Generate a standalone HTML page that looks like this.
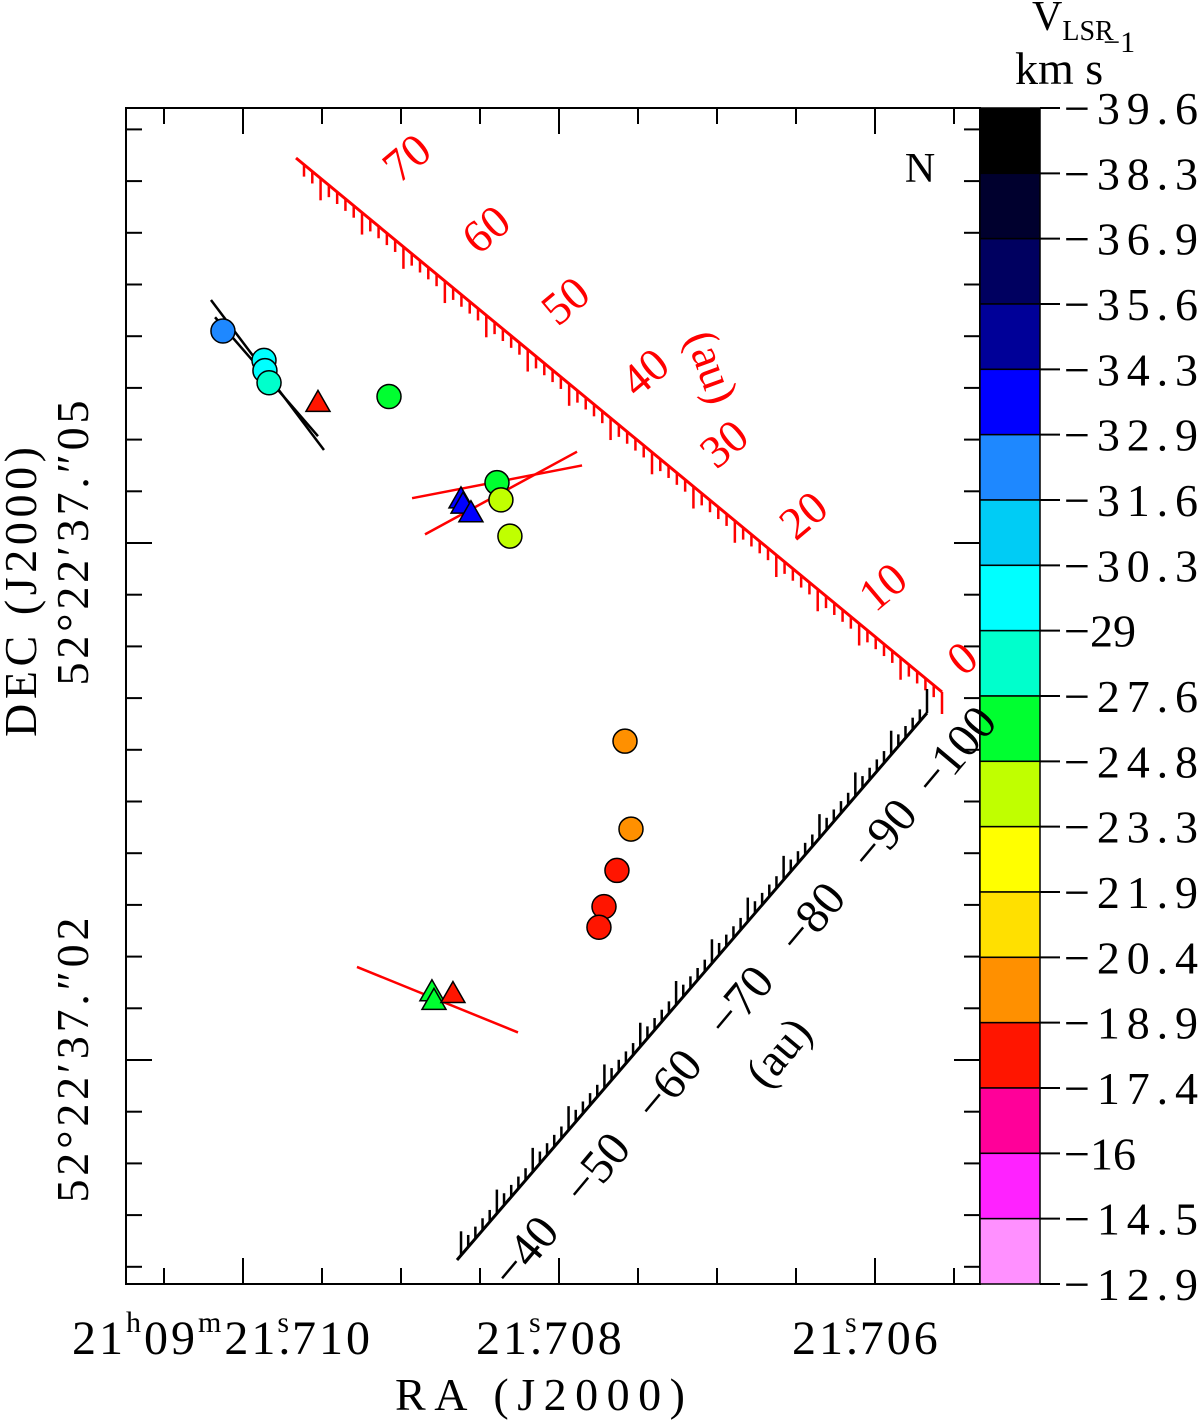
<!DOCTYPE html>
<html><head><meta charset="utf-8"><style>
body{margin:0;background:#fff}
svg{display:block;font-family:"Liberation Serif",serif}
</style></head><body>
<svg id="chart" width="1200" height="1426" viewBox="0 0 1200 1426" xmlns="http://www.w3.org/2000/svg">
<g id="axes"></g>
<g id="cbar"></g>
<g id="scales"></g>
<g id="fits"></g>
<g id="marks"></g>
<text x="920" y="182" font-size="42" text-anchor="middle">N</text>
<text x="540" y="1410" font-size="46" text-anchor="middle" textLength="290">RA (J2000)</text>
<text transform="translate(36,592) rotate(-90)" font-size="46" text-anchor="middle" textLength="290">DEC (J2000)</text>
<text transform="translate(88,543) rotate(-90)" font-size="46" text-anchor="middle" textLength="285">52°22′37.″05</text>
<text transform="translate(88,1060) rotate(-90)" font-size="46" text-anchor="middle" textLength="285">52°22′37.″02</text>
<g font-size="48" letter-spacing="3">
<text x="72" y="1354">21<tspan font-size="30" dy="-22">h</tspan><tspan dy="22">09</tspan><tspan font-size="30" dy="-22">m</tspan><tspan dy="22">21.</tspan><tspan font-size="30" dy="-22" dx="-16">s</tspan><tspan dy="22">710</tspan></text>
<text x="476" y="1354">21.<tspan font-size="30" dy="-22" dx="-16">s</tspan><tspan dy="22">708</tspan></text>
<text x="792" y="1354">21.<tspan font-size="30" dy="-22" dx="-16">s</tspan><tspan dy="22">706</tspan></text>
</g>
<text x="1032" y="30" font-size="42">V<tspan font-size="28" dy="10">LSR</tspan></text>
<text x="1015" y="84" font-size="46">km s<tspan font-size="30" dy="-32">−1</tspan></text>
</svg>
<script>
const raSec=[21.710127,21.709867,21.709861,21.709835,21.709075,21.708391,21.708366,21.708309,21.707580,21.707542,21.707631,21.707713,21.707745];
const decSec=[37.0623,37.0606,37.0600,37.0593,37.0585,37.0535,37.0525,37.0504,37.0385,37.0334,37.0310,37.0289,37.0277];
const velCircle=[-32.2,-29.7,-29.5,-28.3,-25.5,-25.5,-24.0,-24.0,-19.5,-19.5,-18.0,-18.0,-18.0];
const raTri=[21.709525,21.708619,21.708606,21.708556,21.708803,21.708790,21.708670];
const decTri=[37.0581,37.0525,37.0522,37.0517,37.0239,37.0234,37.0238];
const velTri=[-18.0,-33.5,-33.5,-33.5,-25.5,-25.5,-18.0];
const cbarLabels=["−39.6","−38.3","−36.9","−35.6","−34.3","−32.9","−31.6","−30.3","−29","−27.6","−24.8","−23.3","−21.9","−20.4","−18.9","−17.4","−16","−14.5","−12.9"];
const cbarEdges=[-39.6,-38.3,-36.9,-35.6,-34.3,-32.9,-31.6,-30.3,-29,-27.6,-24.8,-23.3,-21.9,-20.4,-18.9,-17.4,-16,-14.5,-12.9];
const cbarColors=["#000000","#00002e","#000060","#000098","#0000ff","#1e88ff","#00ccf5","#00ffff","#00ffcc","#00ff30","#c0ff00","#ffff00","#ffe000","#ff9000","#ff1500","#ff0099","#ff22ff","#ff90ff"];
const fitLines=[[21.710203,37.0641,21.709487,37.0554,"#000"],[21.710177,37.0631,21.709525,37.0562,"#000"],[21.708929,37.0526,21.707852,37.0545,"#f00"],[21.708847,37.0505,21.707884,37.0553,"#f00"],[21.709278,37.0254,21.708258,37.0216,"#f00"]];
const redScaleLabels=[0,10,20,30,40,50,60,70];
const blackScaleLabels=[-100,-90,-80,-70,-60,-50,-40];
const NS="http://www.w3.org/2000/svg";
const L=126,R=980,T=108,B=1284;
const xs=ra=>243+(21.710-ra)*157850;
const ys=d=>543+(37.05-d)*17233;
function mk(tag,attrs,parent){const e=document.createElementNS(NS,tag);for(const k in attrs)e.setAttribute(k,attrs[k]);parent.appendChild(e);return e;}
function colorOf(v){for(let i=0;i<cbarColors.length;i++){if(v<=cbarEdges[i+1])return cbarColors[i];}return cbarColors[cbarColors.length-1];}
const axes=document.getElementById('axes');
const frame=mk('rect',{x:L,y:T,width:R-L,height:B-T,fill:'none',stroke:'#000','stroke-width':2},axes);


for(let k=-1;k<=9;k++){const x=243+k*79;if(x<L||x>R)continue;const len=(k%4===0)?26:16;
const t1=mk('line',{x1:x,y1:B,x2:x,y2:B-len,stroke:'#000','stroke-width':2},axes);


const t2=mk('line',{x1:x,y1:T,x2:x,y2:T+len,stroke:'#000','stroke-width':2},axes);

}
for(let k=-8;k<=14;k++){const y=543+k*51.7;if(y<T||y>B)continue;const len=(k%10===0)?26:16;
const t1=mk('line',{x1:L,y1:y,x2:L+len,y2:y,stroke:'#000','stroke-width':2},axes);


const t2=mk('line',{x1:R,y1:y,x2:R-len,y2:y,stroke:'#000','stroke-width':2},axes);

}
// colorbar
const cb=document.getElementById('cbar');const bh=(B-T)/cbarColors.length;
cbarColors.forEach((c,i)=>{const r=mk('rect',{x:980,y:T+i*bh,width:60,height:bh,fill:c,stroke:'#000','stroke-width':1.5},cb);

});
cbarLabels.forEach((s,i)=>{const y=T+i*bh;mk('line',{x1:1040,y1:y,x2:1060,y2:y,stroke:'#000','stroke-width':2},cb);
const t=mk('text',{x:1064,y:y+16,'font-size':46},cb);t.textContent=s;
if(s.length===5)t.setAttribute('textLength','134');

});
// scales
const sc=document.getElementById('scales');
const rc=[942,692],rEnd=[296,158];const rl=Math.hypot(rEnd[0]-rc[0],rEnd[1]-rc[1]);const rux=(rEnd[0]-rc[0])/rl,ruy=(rEnd[1]-rc[1])/rl;const rpx=10.75;
const rline=mk('line',{x1:rc[0],y1:rc[1],x2:rEnd[0],y2:rEnd[1],stroke:'#f00','stroke-width':3},sc);


for(let a=0;a*rpx<=rl;a++){const x=rc[0]+rux*a*rpx,y=rc[1]+ruy*a*rpx;const len=a%5===0?22:12;mk('line',{x1:x,y1:y,x2:x,y2:y+len,stroke:'#f00','stroke-width':2.5},sc);}
redScaleLabels.forEach(v=>{const x=rc[0]+rux*v*rpx+30+v*0.35,y=rc[1]+ruy*v*rpx-22-v*0.3;const t=mk('text',{transform:`translate(${x},${y}) rotate(-40)`,'font-size':46,fill:'#f00','text-anchor':'middle'},sc);t.textContent=v;

});
const rau=mk('text',{transform:'translate(698,372) rotate(70)','font-size':46,fill:'#f00','text-anchor':'middle'},sc);rau.textContent='(au)';
const bc=[927,713],bEnd=[457,1260];const bl=Math.hypot(bEnd[0]-bc[0],bEnd[1]-bc[1]);const bux=(bEnd[0]-bc[0])/bl,buy=(bEnd[1]-bc[1])/bl;const bpx=11.0;
const bline=mk('line',{x1:bc[0],y1:bc[1],x2:bEnd[0],y2:bEnd[1],stroke:'#000','stroke-width':3},sc);


for(let a=0;a*bpx<=bl;a++){const x=bc[0]+bux*a*bpx,y=bc[1]+buy*a*bpx;const len=a%5===0?24:12;mk('line',{x1:x,y1:y,x2:x,y2:y-len,stroke:'#000','stroke-width':2.5},sc);}
blackScaleLabels.forEach(v=>{const a=v+100;const x=bc[0]+bux*a*bpx+40,y=bc[1]+buy*a*bpx+48;const t=mk('text',{transform:`translate(${x},${y}) rotate(-50)`,'font-size':48,'text-anchor':'middle'},sc);t.textContent='−'+Math.abs(v);

});
const bau=mk('text',{transform:'translate(790,1062) rotate(-50)','font-size':46,'text-anchor':'middle'},sc);bau.textContent='(au)';
// fits
const fg=document.getElementById('fits');
fitLines.forEach(f=>{const l=mk('line',{x1:xs(f[0]),y1:ys(f[1]),x2:xs(f[2]),y2:ys(f[3]),stroke:f[4],'stroke-width':2.5},fg);

});
// marks
const mg=document.getElementById('marks');
raSec.forEach((ra,i)=>{const c=mk('circle',{cx:xs(ra),cy:ys(decSec[i]),r:12,fill:colorOf(velCircle[i]),stroke:'#000','stroke-width':1.5},mg);

});
raTri.forEach((ra,i)=>{const x=xs(ra),y=ys(decTri[i]);const p=mk('polygon',{points:`${x},${y-13} ${x-12},${y+8} ${x+12},${y+8}`,fill:colorOf(velTri[i]),stroke:'#000','stroke-width':1.5},mg);

});
</script>
</body></html>
